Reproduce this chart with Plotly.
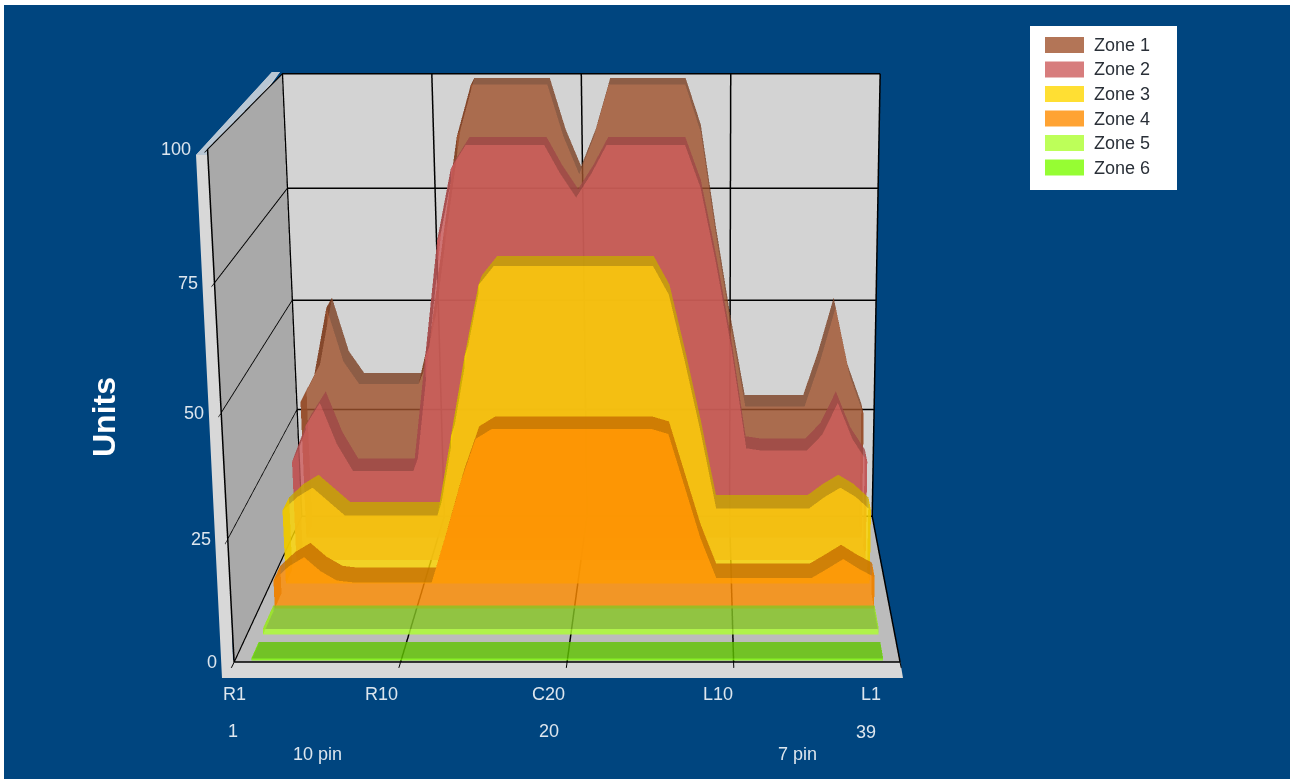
import plotly.graph_objects as go

pins = list(range(1, 40))
zone_1 = [31, 37, 52, 40, 35, 35, 35, 35, 35, 48, 69, 89, 100, 100, 100, 100, 100, 100, 89, 81,
          89, 100, 100, 100, 100, 100, 100, 90, 68, 48, 30, 30, 30, 30, 30, 40, 52, 37, 28]
zone_2 = [22, 30, 35, 26, 20, 20, 20, 20, 20, 45, 70, 85, 90, 90, 90, 90, 90, 90, 84, 79,
          84, 90, 90, 90, 90, 90, 90, 81, 65, 47, 25, 24.5, 24.5, 24.5, 24.5, 28, 35, 27, 22]
zone_3 = [16, 19, 21, 18, 15, 15, 15, 15, 15, 15, 15, 32, 49, 64, 68, 68, 68, 68, 68, 68,
          68, 68, 68, 68, 68, 62, 48, 33, 16.5, 16.5, 16.5, 16.5, 16.5, 16.5, 16.5, 19, 21, 19, 16]
zone_4 = [6, 9, 11, 8, 6, 5.6, 5.6, 5.6, 5.6, 5.6, 5.6, 16, 27, 36, 38, 38, 38, 38, 38, 38,
          38, 38, 38, 38, 38, 37, 26, 15, 6.5, 6.5, 6.5, 6.5, 6.5, 6.5, 6.5, 8.5, 10.6, 8.5, 6.7]
zone_5 = [1.2] * 39
zone_6 = [0.4] * 39
zone_names = ["Zone 1", "Zone 2", "Zone 3", "Zone 4", "Zone 5", "Zone 6"]
zone_values = [zone_1, zone_2, zone_3, zone_4, zone_5, zone_6]
tick_positions = [0, 10, 20, 30, 40]
tick_labels = ["R1", "R10", "C20", "L10", "L1"]
tick_shifts = [0, -19, -19, -16, -29]
unit_ticks = [0, 25, 50, 75, 100]

zone_colors = [(160, 82, 45), (205, 92, 92), (255, 215, 0), (255, 140, 0), (173, 255, 47), (124, 252, 0)]
depth_front = [5.0, 4.0, 3.0, 2.0, 1.0, 0.05]
depth_back = [5.6, 4.6, 3.6, 2.6, 1.9, 0.65]
BG = "#00457f"
W, H, OFF = 1290, 2136, 716


def rgb(c, k=1.0):
    return "rgb(%d,%d,%d)" % tuple(min(255, int(v * k)) for v in c)


def zone_mesh(name, values, color, y0, y1):
    xs, ys, zs, i, j, k, fc = [], [], [], [], [], [], []

    def add(p):
        xs.append(p[0]); ys.append(p[1]); zs.append(p[2])
        return len(xs) - 1

    def quad(a, b, c, d, col):
        ia, ib, ic, id_ = add(a), add(b), add(c), add(d)
        i.extend([ia, ia]); j.extend([ib, ic]); k.extend([ic, id_]); fc.extend([col, col])

    front, top, cap = rgb(color), rgb(color, 0.78), rgb(color, 0.92)
    for n in range(len(pins) - 1):
        x0, x1, v0, v1 = pins[n], pins[n + 1], values[n], values[n + 1]
        quad((x0, y0, 0), (x1, y0, 0), (x1, y0, v1), (x0, y0, v0), front)
        quad((x0, y0, v0), (x1, y0, v1), (x1, y1, v1), (x0, y1, v0), top)
    for x, v in ((pins[0], values[0]), (pins[-1], values[-1])):
        quad((x, y0, 0), (x, y1, 0), (x, y1, v), (x, y0, v), cap)
    return go.Mesh3d(x=xs, y=ys, z=zs, i=i, j=j, k=k, facecolor=fc, opacity=0.8, flatshading=True,
                     lighting=dict(ambient=1, diffuse=0, specular=0, fresnel=0, roughness=1),
                     name=name, hoverinfo="name", showscale=False)


fig = go.Figure()
for idx, name in enumerate(zone_names):
    fig.add_trace(zone_mesh(name, zone_values[idx], zone_colors[idx], depth_front[idx], depth_back[idx]))

px = lambda x: x / W
py = lambda y: 1 - (y + OFF) / H


def poly(points, fill, layer="below"):
    d = "M" + " L".join("%.5f,%.5f" % (px(a), py(b)) for a, b in points) + " Z"
    return dict(type="path", xref="paper", yref="paper", path=d, fillcolor=fill, line_width=0, layer=layer)


shapes = [
    poly([(0, 0), (1290, 0), (1290, 5), (4, 5), (4, 779), (1290, 779), (1290, 783), (0, 783)], "#ffffff"),
    poly([(272, 72), (196, 155), (222, 678), (903, 678), (900, 660), (233, 660), (217, 160), (280, 72)], "#d8d8d8"),
    poly([(272, 72), (196, 155), (210, 155), (280, 72)], "#b9c7d4"),
]
annotations = [
    dict(text="<b>Units</b>", x=px(104), y=py(417), textangle=-90, font=dict(size=32, color="white")),
    dict(text="1", x=px(233), y=py(731), font=dict(size=18, color="#dde6ee")),
    dict(text="20", x=px(549), y=py(731), font=dict(size=18, color="#dde6ee")),
    dict(text="39", x=px(866), y=py(732), font=dict(size=18, color="#dde6ee")),
    dict(text="10 pin", x=px(317), y=py(754), font=dict(size=18, color="#dde6ee")),
    dict(text="7 pin", x=px(797), y=py(754), font=dict(size=18, color="#dde6ee")),
]
shapes.append(dict(type="rect", xref="paper", yref="paper", x0=px(1030), x1=px(1177), y0=py(26), y1=py(190),
                   fillcolor="white", line_width=0, layer="above"))
for n, name in enumerate(zone_names):
    yc = 45 + n * 24.5
    c = "rgba(%d,%d,%d,0.8)" % zone_colors[n]
    shapes.append(dict(type="rect", xref="paper", yref="paper", x0=px(1045), x1=px(1084), y0=py(yc - 8), y1=py(yc + 8),
                       fillcolor=c, line_width=0, layer="above"))
    annotations.append(dict(text=name, x=px(1092), y=py(yc), xanchor="left", font=dict(size=18, color="#2a3038")))
for a in annotations:
    a.update(xref="paper", yref="paper", showarrow=False, yanchor="middle")
    a.setdefault("xanchor", "center")
    a["font"]["family"] = "Liberation Sans"

tick_font = dict(color="#dde6ee", size=18, family="Liberation Sans")
scene_annotations = [
    dict(x=p, y=0, z=0, text=t, showarrow=False, xshift=s, yshift=-32, font=tick_font)
    for p, t, s in zip(tick_positions, tick_labels, tick_shifts)
] + [
    dict(x=0, y=0, z=v, text=str(v), showarrow=False, xanchor="right", xshift=-15, font=tick_font)
    for v in unit_ticks
]

axis_common = dict(showspikes=False, zeroline=False, showline=True, linecolor="black", linewidth=3,
                   gridcolor="black", gridwidth=3, title="", showticklabels=False,
                   ticks="outside", ticklen=12, tickcolor="black", tickwidth=2)
EYE_X = 0.665
fig.update_layout(
    width=W, height=H, margin=dict(l=0, r=0, t=0, b=0), paper_bgcolor=BG, showlegend=False,
    shapes=shapes, annotations=annotations,
    scene=dict(
        domain=dict(x=[0.094, 1], y=[0, 1]),
        bgcolor="rgba(0,0,0,0)",
        aspectmode="manual", aspectratio=dict(x=3.2, y=2.15, z=2.5),
        camera=dict(eye=dict(x=EYE_X, y=-12.63, z=3.46), center=dict(x=EYE_X, y=0, z=0), up=dict(x=0, y=0, z=1)),
        xaxis=dict(range=[0, 40], tickvals=tick_positions, ticktext=tick_labels, showbackground=True,
                   backgroundcolor="#a9a9a9", **axis_common),
        yaxis=dict(range=[0, 6], tickvals=[], showgrid=False, showbackground=True,
                   backgroundcolor="#d3d3d3", **axis_common),
        zaxis=dict(range=[0, 100], tickvals=unit_ticks, showbackground=True,
                   backgroundcolor="#bcbcbc", **axis_common),
        annotations=scene_annotations,
    ),
)
fig.write_html("out.html", post_script="document.body.style.margin='-%dpx 0 0 0';document.documentElement.style.overflow='hidden';document.body.style.overflow='hidden';" % OFF)
